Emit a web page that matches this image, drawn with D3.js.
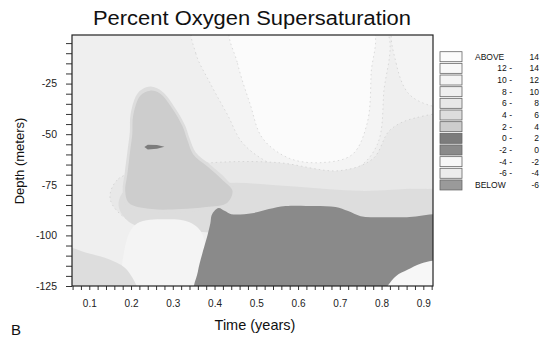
<!DOCTYPE html>
<html>
<head>
<meta charset="utf-8">
<script src="https://cdn.jsdelivr.net/npm/d3@7"></script>
<style>
  html, body { margin: 0; padding: 0; background: #fff; }
  svg { display: block; font-family: "Liberation Sans", Arial, sans-serif; }
</style>
</head>
<body>
<svg id="chart" width="549" height="339"></svg>
<script>
// legend bins (top to bottom)
const binLabels = ["ABOVE", "12 -", "10 -", "8 -", "6 -", "4 -", "2 -", "0 -", "-2 -", "-4 -", "-6 -", "BELOW"];
const binUpper  = ["14", "14", "12", "10", "8", "6", "4", "2", "0", "-2", "-4", "-6"];
const binLow    = [14, 12, 10, 8, 6, 4, 2, 0, -2, -4, -6, -99];
const binFills  = ["#fbfbfb", "#f8f8f8", "#f4f4f4", "#efefef", "#e8e8e8", "#dddddd",
                   "#cdcdcd", "#7c7c7c", "#8a8a8a", "#f7f7f7", "#ececec", "#9a9a9a"];

const xTickLabels = [0.1, 0.2, 0.3, 0.4, 0.5, 0.6, 0.7, 0.8, 0.9];
const yTickLabels = [-25, -50, -75, -100, -125];

// contour regions, [time (years), depth (m)]
const upperLight = [[0.35, 3], [0.355, -10], [0.39, -25], [0.43, -40], [0.47, -55], [0.55, -66], [0.65, -70],
                    [0.74, -67], [0.79, -55], [0.805, -30], [0.805, 3]];
const cornerLight = [[0.83, 3], [0.835, -15], [0.865, -30], [0.92, -36], [0.97, -36], [0.97, 3]];
const upperWhite = [[0.44, 3], [0.455, -15], [0.485, -35], [0.515, -52], [0.58, -62], [0.66, -64],
                    [0.73, -60], [0.765, -45], [0.775, -20], [0.775, 3]];
const lowerBand = [[0.15, -82], [0.17, -72], [0.25, -68], [0.40, -64], [0.55, -64], [0.70, -68], [0.78, -62],
                   [0.82, -48], [0.88, -42], [0.97, -42], [0.97, -100], [0.40, -96], [0.20, -93]];
const deepBand = [[0.17, -85], [0.19, -77], [0.30, -75], [0.45, -74], [0.60, -76], [0.75, -78], [0.90, -77],
                  [0.97, -79], [0.97, -100], [0.35, -98], [0.20, -94]];
const tongueHalo = [[0.246, -26.5], [0.275, -29], [0.307, -37.5], [0.329, -45.5], [0.341, -52.5], [0.355, -59],
                    [0.389, -65], [0.427, -72], [0.449, -78], [0.435, -85], [0.38, -87.5], [0.25, -88.5],
                    [0.19, -85.5], [0.18, -78], [0.185, -69], [0.192, -57.5], [0.197, -49], [0.199, -40], [0.217, -29.5]];
const tongue = [[0.246, -28.5], [0.27, -30], [0.301, -38], [0.323, -46], [0.335, -53], [0.349, -60],
                [0.383, -66], [0.421, -73], [0.443, -78], [0.43, -84], [0.38, -86], [0.32, -87], [0.25, -87],
                [0.195, -84], [0.186, -78], [0.191, -70], [0.198, -58], [0.203, -50], [0.205, -41], [0.222, -31]];
const lightPocket = [[0.19, -102], [0.215, -94], [0.28, -92], [0.34, -93.5], [0.372, -100], [0.362, -130], [0.19, -130]];
const leftCorner = [[0.03, -106], [0.10, -109], [0.15, -112], [0.19, -117], [0.215, -130], [0.03, -130]];
const darkRegion = [[0.355, -130], [0.36, -118], [0.372, -108], [0.383, -100], [0.39, -94], [0.393, -90],
                    [0.40, -87.8], [0.41, -86.5], [0.425, -88], [0.44, -89.5], [0.49, -89], [0.53, -87],
                    [0.57, -85.5], [0.64, -85.5], [0.69, -86], [0.72, -88], [0.75, -90.5], [0.80, -91],
                    [0.86, -91], [0.97, -91.5], [0.97, -130]];
const lowCircle = [[0.80, -130], [0.816, -124.5], [0.835, -120], [0.862, -117], [0.893, -114],
                   [0.922, -112.5], [0.96, -112], [0.97, -130]];
const streak = [[0.232, -56.3], [0.24, -55.2], [0.262, -55.4], [0.28, -56.2], [0.262, -57.2], [0.24, -57.6]];

// paint order, each with the lower bound of its bin
const layers = [
  { pts: upperLight, low: 10, line: true },
  { pts: cornerLight, low: 10, line: true },
  { pts: upperWhite, low: 14, line: true },
  { pts: lowerBand, low: 6, line: true },
  { pts: deepBand, low: 4 },
  { pts: tongueHalo, low: 4 },
  { pts: tongue, low: 2 },
  { pts: lightPocket, low: 10 },
  { pts: leftCorner, low: 4 },
  { pts: darkRegion, low: -2 },
  { pts: lowCircle, low: -4 },
  { pts: streak, low: 0, straight: true }
];

const svg = d3.select("#chart");
const plotL = 72, plotR = 433, plotT = 35, plotB = 286;

const x = d3.scaleLinear().domain([0.0586, 0.9232]).range([plotL, plotR]);
const y = d3.scaleLinear().domain([-125, -1]).range([plotB, plotT]);

const fillFor = low => binFills[binLow.indexOf(low)];

// title
svg.append("text")
  .attr("x", 252).attr("y", 25)
  .attr("text-anchor", "middle")
  .attr("font-size", 20)
  .attr("textLength", 318).attr("lengthAdjust", "spacingAndGlyphs")
  .attr("fill", "#111")
  .text("Percent Oxygen Supersaturation");

svg.append("defs").append("clipPath").attr("id", "plot-clip")
  .append("rect")
  .attr("x", plotL).attr("y", plotT)
  .attr("width", plotR - plotL).attr("height", plotB - plotT);

const plot = svg.append("g").attr("clip-path", "url(#plot-clip)");

plot.append("rect")
  .attr("x", plotL).attr("y", plotT)
  .attr("width", plotR - plotL).attr("height", plotB - plotT)
  .attr("fill", fillFor(8));

const smooth = d3.line().x(p => x(p[0])).y(p => y(p[1])).curve(d3.curveCatmullRomClosed.alpha(0.5));
const sharp = d3.line().x(p => x(p[0])).y(p => y(p[1])).curve(d3.curveLinearClosed);

layers.forEach(l => {
  plot.append("path")
    .attr("d", (l.straight ? sharp : smooth)(l.pts))
    .attr("fill", fillFor(l.low))
    .attr("stroke", l.line ? "#c6c6c6" : "none")
    .attr("stroke-width", 0.6)
    .attr("stroke-dasharray", "1.5,3");
});

// axes
const yMinor = d3.range(-125, 0, 5);
const xMinor = d3.range(3, 47).map(i => +(i * 0.02).toFixed(2));

const yAxis = svg.append("g")
  .attr("transform", `translate(${plotL},0)`)
  .call(d3.axisLeft(y).tickValues(yMinor).tickSize(6).tickPadding(9)
    .tickFormat(d => yTickLabels.includes(d) ? d : ""));
const xAxis = svg.append("g")
  .attr("transform", `translate(0,${plotB})`)
  .call(d3.axisBottom(x).tickValues(xMinor).tickSize(4).tickPadding(10)
    .tickFormat(d => xTickLabels.includes(d) ? d.toFixed(1) : ""));

[xAxis, yAxis].forEach(a => {
  a.select(".domain").remove();
  a.selectAll(".tick line").attr("stroke", "#333");
  a.selectAll("text").attr("fill", "#222").attr("font-family", "Liberation Sans, Arial, sans-serif");
});
yAxis.selectAll("text").attr("font-size", 10.5);
xAxis.selectAll("text").attr("font-size", 10);

svg.append("rect")
  .attr("x", plotL).attr("y", plotT)
  .attr("width", plotR - plotL).attr("height", plotB - plotT)
  .attr("fill", "none").attr("stroke", "#222").attr("stroke-width", 1.2);

// axis titles
svg.append("text")
  .attr("transform", "translate(24,161) rotate(-90)")
  .attr("text-anchor", "middle")
  .attr("font-size", 13)
  .attr("fill", "#111")
  .text("Depth (meters)");

svg.append("text")
  .attr("x", 255).attr("y", 330)
  .attr("text-anchor", "middle")
  .attr("font-size", 14.5)
  .attr("fill", "#111")
  .text("Time (years)");

svg.append("text")
  .attr("x", 11).attr("y", 334.5)
  .attr("font-size", 15)
  .attr("fill", "#111")
  .text("B");

// legend
const legend = svg.append("g");
const rowTop = i => 51.7 + i * 11.66;

binLabels.forEach((lab, i) => {
  legend.append("rect")
    .attr("x", 440).attr("y", rowTop(i))
    .attr("width", 22).attr("height", 10)
    .attr("fill", binFills[i])
    .attr("stroke", "#666").attr("stroke-width", 0.8);
  const word = lab === "ABOVE" || lab === "BELOW";
  legend.append("text")
    .attr("x", word ? 475 : 512).attr("y", rowTop(i) + 8)
    .attr("text-anchor", word ? "start" : "end")
    .attr("font-size", 8.5)
    .attr("fill", "#111")
    .text(lab);
  legend.append("text")
    .attr("x", 539).attr("y", rowTop(i) + 8)
    .attr("text-anchor", "end")
    .attr("font-size", 8.5)
    .attr("fill", "#111")
    .text(binUpper[i]);
});
</script>
</body>
</html>
